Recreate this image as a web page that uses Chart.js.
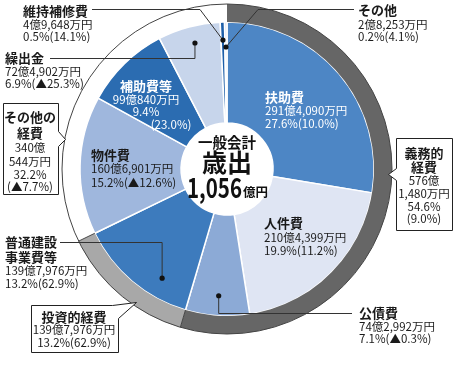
<!DOCTYPE html>
<html><head><meta charset="utf-8">
<script src="https://cdn.jsdelivr.net/npm/chart.js@4/dist/chart.umd.min.js"></script>
<style>html,body{margin:0;padding:0;background:#fff}#wrap{width:456px;height:370px;position:relative}</style>
</head><body><div id="wrap"><canvas id="c"></canvas></div>
<script>
// ---- data (億円) ----
const categories = ['扶助費','人件費','公債費','普通建設事業費等','物件費','補助費等','繰出金','維持補修費','その他'];
const amounts = [291.4090, 210.4399, 74.2992, 139.7976, 160.6901, 99.0840, 72.4902, 4.9648, 2.8253];
const amountLabels = ['291億4,090万円','210億4,399万円','74億2,992万円','139億7,976万円','160億6,901万円','99億840万円','72億4,902万円','4億9,648万円','2億8,253万円'];
const shareLabels = ['27.6%','19.9%','7.1%','13.2%','15.2%','9.4%','6.9%','0.5%','0.2%'];
const changeLabels = ['(10.0%)','(11.2%)','(▲0.3%)','(62.9%)','(▲12.6%)','(23.0%)','(▲25.3%)','(14.1%)','(4.1%)'];
const groups = ['義務的経費','投資的経費','その他の経費'];
const groupAmounts = [576.1480, 139.7976, 340.0544];
const groupAmountLabels = ['576億1,480万円','139億7,976万円','340億544万円'];
const groupShareLabels = ['54.6%','13.2%','32.2%'];
const groupChangeLabels = ['(9.0%)','(62.9%)','(▲7.7%)'];
const totalLabels = ['一般会計','歳出','1,056','億円'];

// ---- styles ----
const pieColors = ['#4d86c5','#dfe5f3','#8caad6','#3d7bbd','#9fb7dd','#2b6cb1','#c7d5eb','#1d5ea8','#dde4f2'];
const ringColors = ['#666666','#a8a8a8','#ffffff'];
const FF = '"Noto Sans CJK JP", "Noto Sans", sans-serif';
const BOLD = 'bold 13px ' + FF;
const REG = '11.5px ' + FF;

function splitOku(s){ const i = s.indexOf('億'); return [s.slice(0,i+1), s.slice(i+1)]; }

function lines(ctx, x, ys, texts, fonts, color, align){
  ctx.save();
  ctx.fillStyle = color; ctx.textAlign = align || 'left'; ctx.textBaseline = 'middle';
  texts.forEach((t,i)=>{ ctx.font = fonts[i]; ctx.fillText(t, x, ys[i]); });
  ctx.restore();
}

function anchor(arc, frac, r){
  const p = arc.getProps(['x','y','startAngle','endAngle'], true);
  const a = p.startAngle + frac*(p.endAngle - p.startAngle);
  return {x: p.x + Math.cos(a)*r, y: p.y + Math.sin(a)*r};
}

function box(ctx, pts){
  ctx.save();
  ctx.beginPath();
  pts.forEach((p,i)=> i ? ctx.lineTo(p[0]+0.5,p[1]+0.5) : ctx.moveTo(p[0]+0.5,p[1]+0.5));
  ctx.closePath();
  ctx.fillStyle = '#fff'; ctx.fill();
  ctx.strokeStyle = '#222'; ctx.lineWidth = 1; ctx.stroke();
  ctx.restore();
}

const annot = {
  id: 'annot',
  afterDatasetsDraw(chart){
    const ctx = chart.ctx;
    const ring = chart.getDatasetMeta(0).data;
    const pie = chart.getDatasetMeta(1).data;
    const r0 = ring[0].getProps(['x','y','outerRadius','innerRadius'], true);
    const cx = r0.x, cy = r0.y;
    ctx.save();
    ctx.strokeStyle = '#444'; ctx.lineWidth = 1;
    ctx.beginPath(); ctx.arc(cx, cy, r0.outerRadius, 0, Math.PI*2); ctx.stroke();
    [ring[1].startAngle, ring[1].endAngle].forEach(a=>{
      ctx.beginPath();
      ctx.moveTo(cx + Math.cos(a)*r0.innerRadius, cy + Math.sin(a)*r0.innerRadius);
      ctx.lineTo(cx + Math.cos(a)*r0.outerRadius, cy + Math.sin(a)*r0.outerRadius);
      ctx.stroke();
    });
    ctx.restore();

    const leaders = [
      {i:7, f:0.5, r:129, path:(d)=>[[200,9],[92,9]]},
      {i:8, f:0.5, r:122, path:(d)=>[[258,9],[354,9]]},
      {i:6, f:0.53, r:130, path:(d)=>[[d.x,58],[50,58]]},
      {i:3, f:0.3, r:127, path:(d)=>[[d.x,242],[60,242]]},
      {i:2, f:0.5, r:127, path:(d)=>[[d.x,313],[352,313]]}
    ];
    ctx.save();
    ctx.strokeStyle = '#333'; ctx.lineWidth = 1; ctx.fillStyle = '#111';
    leaders.forEach(L=>{
      const d = anchor(pie[L.i], L.f, L.r);
      ctx.beginPath(); ctx.moveTo(d.x, d.y);
      L.path(d).forEach(p=>ctx.lineTo(p[0], p[1]+0.5));
      ctx.stroke();
      ctx.beginPath(); ctx.arc(d.x, d.y, 2.6, 0, Math.PI*2); ctx.fill();
    });
    ctx.restore();

    box(ctx, [[3,103],[58,103],[58,131],[65,139],[58,146],[58,194],[3,194]]);
    box(ctx, [[396,138],[452,138],[452,230],[396,230],[396,180],[388,174],[396,168]]);
    box(ctx, [[31,305],[112,305],[136,302],[118,318],[118,352],[31,352]]);

    const dark = '#1a1a1a', white = '#ffffff';
    const v = (i)=> shareLabels[i] + changeLabels[i];
    lines(ctx, 265, [97,111,124], [categories[0], amountLabels[0], v(0)], [BOLD,REG,REG], white);
    lines(ctx, 264, [223,238,251], [categories[1], amountLabels[1], v(1)], [BOLD,REG,REG], dark);
    lines(ctx, 91, [155,169,183], [categories[4], amountLabels[4], v(4)], [BOLD,REG,REG], dark);
    lines(ctx, 146, [86,100,112], [categories[5], amountLabels[5], shareLabels[5]], [BOLD,REG,REG], white, 'center');
    lines(ctx, 171, [125], [changeLabels[5]], [REG], white, 'center');
    lines(ctx, 23, [11,25,37], [categories[7], amountLabels[7], v(7)], [BOLD,REG,REG], dark);
    lines(ctx, 5, [58,72,84], [categories[6], amountLabels[6], v(6)], [BOLD,REG,REG], dark);
    lines(ctx, 358, [10,25,37], [categories[8], amountLabels[8], v(8)], [BOLD,REG,REG], dark);
    lines(ctx, 359, [313,327,339], [categories[2], amountLabels[2], v(2)], [BOLD,REG,REG], dark);
    lines(ctx, 5, [242,257,271,284], [categories[3].slice(0,4), categories[3].slice(4), amountLabels[3], v(3)], [BOLD,BOLD,REG,REG], dark);
    const g0 = splitOku(groupAmountLabels[0]), g2 = splitOku(groupAmountLabels[2]);
    lines(ctx, 424, [153,167,181,194,207,219], [groups[0].slice(0,3), groups[0].slice(3), g0[0], g0[1], groupShareLabels[0], groupChangeLabels[0]], [BOLD,BOLD,REG,REG,REG,REG], dark, 'center');
    lines(ctx, 30, [117,133,148,162,175,187], [groups[2].slice(0,4), groups[2].slice(4), g2[0], g2[1], groupShareLabels[2], groupChangeLabels[2]], [BOLD,BOLD,REG,REG,REG,REG], dark, 'center');
    lines(ctx, 74, [317,330,343], [groups[1], groupAmountLabels[1], groupShareLabels[1] + groupChangeLabels[1]], [BOLD,REG,REG], dark, 'center');

    lines(ctx, cx, [142], [totalLabels[0]], ['bold 14.5px ' + FF], '#111', 'center');
    lines(ctx, cx, [162], [totalLabels[1]], ['bold 25px ' + FF], '#111', 'center');
    ctx.save();
    ctx.fillStyle = '#111'; ctx.textBaseline = 'alphabetic';
    const S = 0.76;
    ctx.font = 'bold 27px ' + FF;
    const w1 = ctx.measureText(totalLabels[2]).width * S;
    ctx.font = 'bold 12.5px ' + FF;
    const w2 = ctx.measureText(totalLabels[3]).width;
    const x0 = cx - (w1 + w2)/2;
    ctx.save(); ctx.translate(x0, 198); ctx.scale(S, 1);
    ctx.font = 'bold 27px ' + FF; ctx.textAlign = 'left'; ctx.fillText(totalLabels[2], 0, 0);
    ctx.restore();
    ctx.font = 'bold 12.5px ' + FF; ctx.textAlign = 'left';
    ctx.fillText(totalLabels[3], x0 + w1 + 1, 197);
    ctx.restore();
  }
};

new Chart(document.getElementById('c'), {
  type: 'doughnut',
  data: {
    labels: categories,
    datasets: [
      { label: '性質別', data: groupAmounts, backgroundColor: ringColors, borderWidth: 0, weight: 18 },
      { label: '歳出', data: amounts, backgroundColor: pieColors, borderColor: '#ffffff', borderWidth: 1.5, weight: 101 }
    ]
  },
  options: {
    responsive: true, maintainAspectRatio: false, animation: false,
    cutout: 46,
    layout: { padding: { top: 4, bottom: 36, left: 0, right: 2 } },
    plugins: { legend: { display: false }, tooltip: { enabled: false } }
  },
  plugins: [annot]
});
</script>
</body></html>
